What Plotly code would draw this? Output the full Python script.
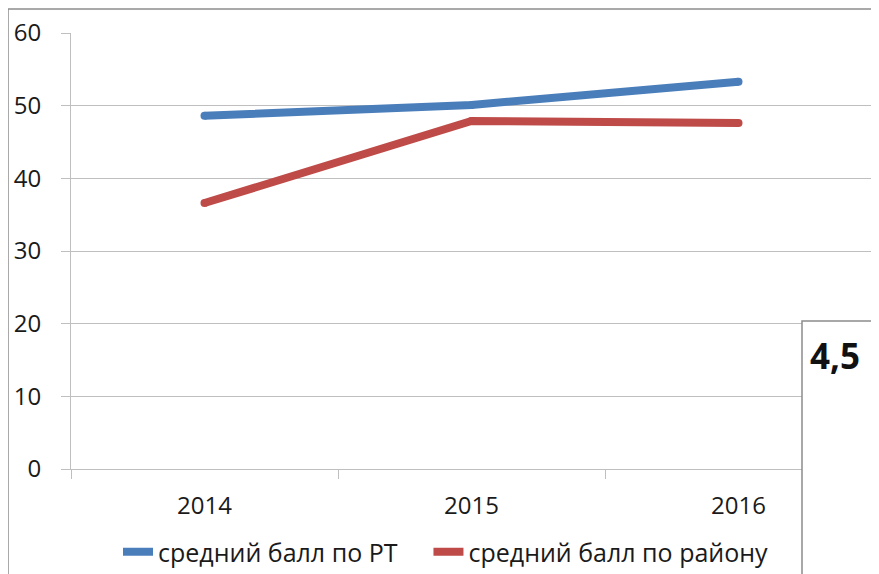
import plotly.graph_objects as go

years = ["2014", "2015", "2016"]
rt_avg = [48.6, 50.1, 53.3]
district_avg = [36.6, 47.9, 47.6]
series_names = ["средний балл по РТ", "средний балл по району"]
colors = ["#4A7EBB", "#BE4B48"]
box_label = "4,5"

FONT = "Open Sans, DejaVu Sans, sans-serif"
OFF = 8  # default page body margin
W, H = 879 - OFF, 574 - OFF
# plot area in page pixels: x 71..872, y 33..469
PX0, PX1, PY0, PY1 = 71, 872, 33, 469
L, R, T, B = PX0 - OFF, W - (PX1 - OFF), PY0 - OFF, H - (PY1 - OFF)
PW, PH = PX1 - PX0, PY1 - PY0


def px(x):
    return (x - PX0) / PW


def py(y):
    return (PY1 - y) / PH


SPACER = "\u00a0" * 4
fig = go.Figure()
for i, (name, vals, c) in enumerate(zip(series_names, [rt_avg, district_avg], colors)):
    label = name + (SPACER if i < len(series_names) - 1 else "")
    fig.add_trace(go.Scatter(x=years, y=vals, name=label, mode="lines",
                             line=dict(color=c, width=8)))
    fig.add_trace(go.Scatter(x=years, y=vals, mode="markers", showlegend=False,
                             hoverinfo="skip",
                             marker=dict(color=c, size=8, line=dict(width=0))))

grid_c = "#BFBFBF"
fig.update_layout(
    width=W, height=H,
    margin=dict(l=L, r=R, t=T, b=B),
    paper_bgcolor="white", plot_bgcolor="white",
    font=dict(family=FONT, color="#1a1a1a"),
    showlegend=True,
    legend=dict(orientation="h", xref="container", yref="container",
                x=(118 - OFF) / W, xanchor="left",
                y=(574 - 552) / H, yanchor="middle",
                font=dict(size=25, family=FONT, color="#1a1a1a"),
                itemwidth=30, tracegroupgap=0, bgcolor="rgba(0,0,0,0)"),
    xaxis=dict(type="category", range=[-0.5, 2.5], showgrid=False,
               showline=True, linecolor=grid_c, linewidth=1,
               ticks="outside", ticklen=9, tickcolor=grid_c, tickson="boundaries",
               tickfont=dict(size=24, family=FONT, color="#1a1a1a"),
               ticklabelstandoff=15, zeroline=False),
    yaxis=dict(range=[0, 60], dtick=10, showgrid=True, gridcolor=grid_c, gridwidth=1,
               showline=True, linecolor=grid_c, linewidth=1,
               ticks="outside", ticklen=9, tickcolor=grid_c,
               tickfont=dict(size=24, family=FONT, color="#1a1a1a"),
               ticklabelstandoff=15, zeroline=False),
)

# outer border lines (top and left)
fig.add_shape(type="line", xref="paper", yref="paper",
              x0=px(8), x1=px(890), y0=py(9), y1=py(9),
              line=dict(color="#8C8C8C", width=1.5), layer="above")
fig.add_shape(type="line", xref="paper", yref="paper",
              x0=px(8), x1=px(8), y0=py(9), y1=py(590),
              line=dict(color="#8C8C8C", width=1.5), layer="above")

# overlay box with label
fig.add_shape(type="rect", xref="paper", yref="paper",
              x0=px(802), x1=px(895), y0=py(321), y1=py(595),
              fillcolor="white", line=dict(color="#8C8C8C", width=1.5), layer="above")
fig.add_annotation(xref="paper", yref="paper", x=px(808), y=py(355),
                   xanchor="left", yanchor="middle",
                   text="<b>" + box_label + "</b>", showarrow=False,
                   font=dict(size=35, family=FONT, color="#111111"))

fig.write_html("out.html")
